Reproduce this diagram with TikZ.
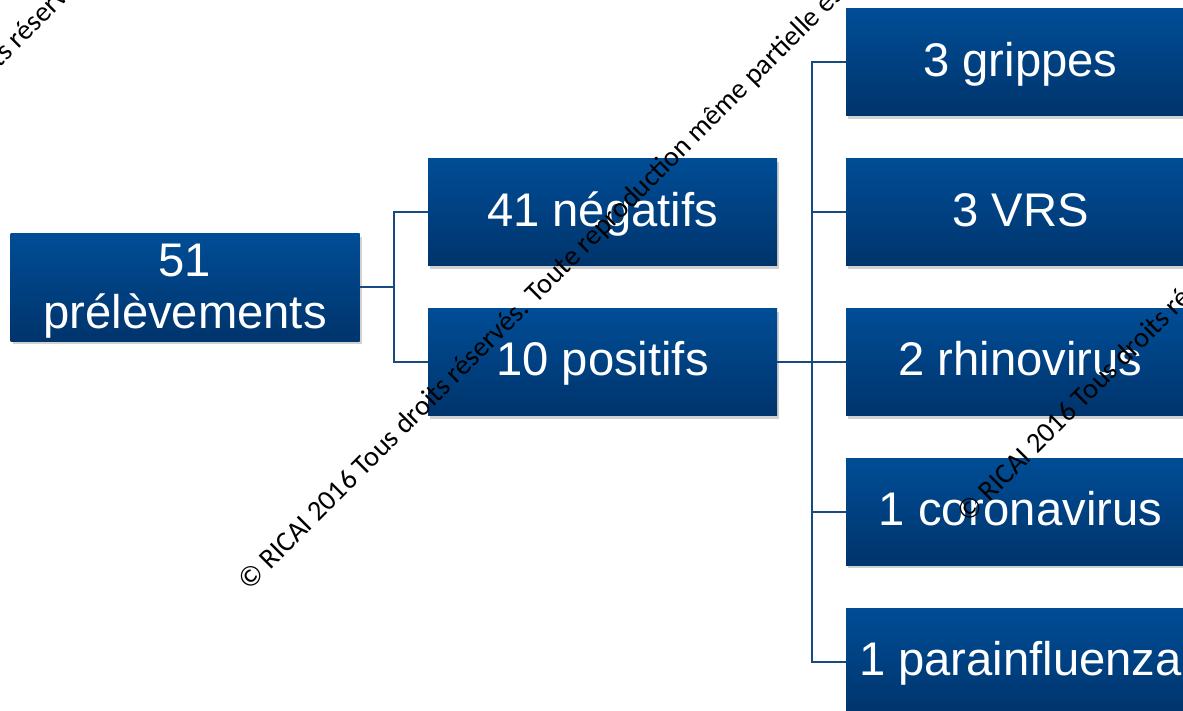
\documentclass[tikz,border=0pt]{standalone}
\usepackage{fontspec}
\setmainfont{Liberation Sans}
\newfontfamily\wmfont{Carlito}
\usetikzlibrary{shadows}
\definecolor{boxtop}{RGB}{0,77,150}
\definecolor{boxbot}{RGB}{0,52,108}
\definecolor{linkc}{RGB}{22,74,128}
\tikzset{
  box/.style={rectangle, inner sep=0pt, minimum width=174.5pt, minimum height=53.5pt,
    top color=boxtop, bottom color=boxbot, text=white,
    font=\fontsize{23.6pt}{28pt}\selectfont, text height=18.9pt, text depth=5pt,
    drop shadow={shadow xshift=1pt, shadow yshift=-1.6pt, fill=black, opacity=0.18}},
  boxtext/.style={inner sep=0pt, text=white, font=\fontsize{23.6pt}{28pt}\selectfont},
  link/.style={draw=linkc, line width=1pt},
  wm/.style={inner sep=0pt, rotate=45, text=black, font=\wmfont\fontsize{14.2pt}{16pt}\selectfont}
}
\begin{document}
\begin{tikzpicture}[x=0.5pt,y=-0.5pt]
\useasboundingbox (0,0) rectangle (1183,711);
\clip (0,0) rectangle (1183,711);
\fill[white] (0,0) rectangle (1183,711);
% boxes
\node[box] (root) at (185,287.5) {};
\node[boxtext, anchor=base] (t51) at (185,276.7) {51};
\node[boxtext, anchor=base] (tprel) at (185,328.3) {prélèvements};
\node[box] (neg) at (602.5,212.5) {41 négatifs};
\node[box] (pos) at (602.5,362) {10 positifs};
\node[box] (grip) at (1020.5,62.5) {3 grippes};
\node[box] (vrs) at (1020.5,212.5) {3 VRS};
\node[box] (rhino) at (1020.5,362) {2 rhinovirus};
\node[box] (corona) at (1020.5,511.5) {1 coronavirus};
\node[box] (para) at (1020.5,661.5) {1 parainfluenza};
% connectors
\coordinate (j1) at (394,287.5);
\draw[link] (root.east) -- (j1);
\draw[link] (j1) |- (neg.west);
\draw[link] (j1) |- (pos.west);
\coordinate (j2) at (812,362);
\draw[link] (pos.east) -- (j2);
\foreach \n in {grip,vrs,rhino,corona,para} \draw[link] (j2) |- (\n.west);
% watermarks
\node[wm, anchor=base west] (wm1) at (249,592) {© RICAI 2016 Tous droits réservés. Toute reproduction même partielle est interdite};
\node[wm, anchor=base west] (wm2) at (968,524) {© RICAI 2016 Tous droits réservés. Toute reproduction même partielle est interdite};
\node[wm, anchor=base east] (wm3a) at (-1,69) {© RICAI 2016 Tous droi};
\node[wm, anchor=base west] (wm3b) at (-1,69) {ts réservés. Toute reproduction même partielle est interdite};
\end{tikzpicture}
\end{document}
